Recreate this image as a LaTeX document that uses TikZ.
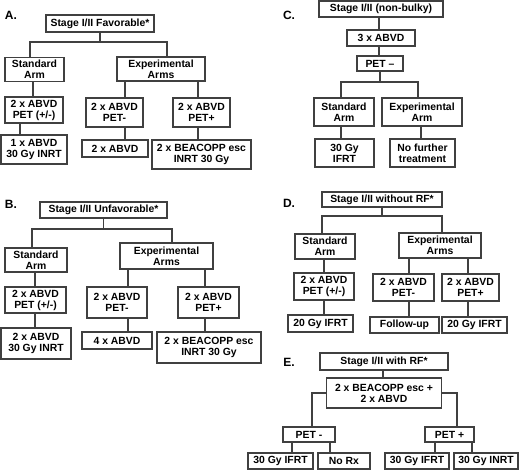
\documentclass[tikz,border=0pt]{standalone}
\usepackage{fontspec}
\setmainfont{Liberation Sans}

\begin{document}
\begin{tikzpicture}
[x=1pt,y=-1pt,
  boxDecorate/.style={draw=black!75,line width=1.1pt,inner sep=0pt,align=center,
    font=\fontsize{10.4}{11}\selectfont\bfseries},
  lineDecorate/.style={-,draw=black!75,line width=1.1pt},
  labelDecorate/.style={font=\fontsize{12}{12}\selectfont\bfseries}]
\useasboundingbox (0,0) rectangle (520,470);
%% panel letters
\foreach \nodename/\x/\y in {A/11/15, B/11/204, C/289/15, D/289/203, E/289/362}
{
  \node[labelDecorate] (lab\nodename) at (\x,\y) {\nodename.};
}
%% boxes
\foreach \nodename/\x/\y/\w/\h/\txt in {
  favA/100/23.5/108/17/{Stage I/II Favorable*},
  stdA/34.5/69.5/59/24/{Standard\\Arm},
  expA/161/69/88/24/{Experimental\\Arms},
  petA/34/110/58/26/{2 x ABVD\\PET (+/-)},
  negA/114.5/112.5/57/29/{2 x ABVD\\PET-},
  posA/201.5/112.5/57/29/{2 x ABVD\\PET+},
  oneA/34/149.5/66/29/{1 x ABVD\\30 Gy INRT},
  abvdA/115/148.5/66/17/{2 x ABVD},
  beaA/201.5/154.5/99/29/{2 x BEACOPP esc\\INRT 30 Gy},
  unfB/103.5/210/127/16/{Stage I/II Unfavorable*},
  stdB/36/260/62/24/{Standard\\Arm},
  expB/166.5/256/93/26/{Experimental\\Arms},
  petB/35.5/300/61/26/{2 x ABVD\\PET (+/-)},
  negB/117/302.5/60/31/{2 x ABVD\\PET-},
  posB/208.5/302.5/61/31/{2 x ABVD\\PET+},
  twoB/36/343.5/70/31/{2 x ABVD\\30 Gy INRT},
  abvdB/117/340.5/70/17/{4 x ABVD},
  beaB/209/347.5/104/31/{2 x BEACOPP esc\\INRT 30 Gy},
  rootC/381/9/124/16/{Stage I/II (non-bulky)},
  abvdC/381/38/68/16/{3 x ABVD},
  petC/380/63.5/46/15/{PET --},
  stdC/344/112/60/28/{Standard\\Arm},
  expC/422/112/80/28/{Experimental\\Arm},
  ifrtC/344.5/153/59/28/{30 Gy\\IFRT},
  noC/422.5/153/65/28/{No further\\treatment},
  rootD/382/199.5/120/15/{Stage I/II without RF*},
  stdD/325/246.5/60/25/{Standard\\Arm},
  expD/440/245.5/82/25/{Experimental\\Arms},
  petD/324/286.5/60/27/{2 x ABVD\\PET (+/-)},
  negD/403.5/287.5/61/27/{2 x ABVD\\PET-},
  posD/470.5/287.5/57/27/{2 x ABVD\\PET+},
  ifrtD/320.5/323.5/65/17/{20 Gy IFRT},
  fupD/404.5/325/69/16/{Follow-up},
  ifrtDb/474.5/325/65/16/{20 Gy IFRT},
  rootE/384/361.5/128/17/{Stage I/II with RF*},
  beaE/384/393/115/30/{2 x BEACOPP esc +\\2 x ABVD},
  negE/309/434.5/52/15/{PET -},
  posE/449.5/434.5/49/15/{PET +},
  ifrtE/280.5/461/65/16/{30 Gy IFRT},
  norxE/344/461/52/16/{No Rx},
  ifrtEb/417/461/64/16/{30 Gy IFRT},
  inrtE/486/461/64/16/{30 Gy INRT}}
{
  \node[boxDecorate,minimum width=\w,minimum height=\h] (\nodename) at (\x,\y) {\txt};
}
%% connectors through a bar
\foreach \startnode/\endnode/\bar/\xpos in {
  favA/stdA/42/30, favA/expA/42/167, unfB/stdB/229/32, unfB/expB/229/172,
  petC/stdC/82/341, petC/expC/82/418, rootD/stdD/216/322, rootD/expD/216/442}
{
  \coordinate (turn) at (\xpos,\bar);
  \draw[lineDecorate] (\startnode.south) |- (turn) -- (\endnode.north -| turn);
}
%% straight connectors
\foreach \startnode/\endnode/\xpos in {
  stdA/petA/33, petA/oneA/20, expA/negA/125, expA/posA/198,
  negA/abvdA/125, posA/beaA/198,
  stdB/petB/35, petB/twoB/35, expB/negB/128, expB/posB/205,
  negB/abvdB/128, posB/beaB/205,
  rootC/abvdC/379, abvdC/petC/379, stdC/ifrtC/341, expC/noC/421,
  stdD/petD/324, petD/ifrtD/324, expD/negD/409, expD/posD/468,
  negD/fupD/409, posD/ifrtDb/468,
  rootE/beaE/383, negE/ifrtE/292, negE/norxE/330, posE/ifrtEb/435, posE/inrtE/472}
{
  \coordinate (drop) at (\xpos,0);
  \draw[lineDecorate] (\startnode.south -| drop) -- (\endnode.north -| drop);
}
%% connectors from the sides
\foreach \startnode/\side/\endnode/\xpos in {beaE/west/negE/312, beaE/east/posE/457}
{
  \coordinate (turn) at (\xpos,0);
  \draw[lineDecorate] (\startnode.\side) -- (\startnode.\side -| turn) -- (\endnode.north -| turn);
}
\end{tikzpicture}
\end{document}
